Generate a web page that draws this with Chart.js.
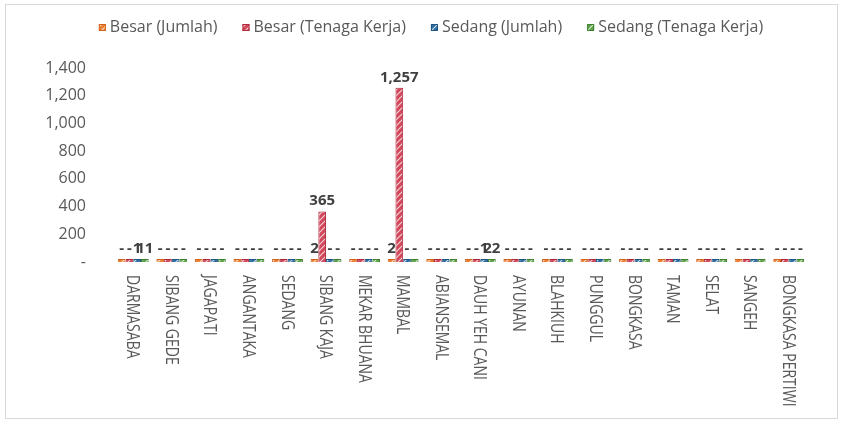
<!DOCTYPE html>
<html>
<head>
<meta charset="utf-8">
<script src="https://cdn.jsdelivr.net/npm/chart.js@4.4.0/dist/chart.umd.min.js"></script>
<style>
  html, body { margin: 0; padding: 0; background: #ffffff; }
  #wrap { width: 843px; height: 424px; position: relative; }
</style>
</head>
<body>
<div id="wrap"><canvas id="chart"></canvas></div>
<script>
const categories = [
  "DARMASABA", "SIBANG GEDE", "JAGAPATI", "ANGANTAKA", "SEDANG",
  "SIBANG KAJA", "MEKAR BHUANA", "MAMBAL", "ABIANSEMAL", "DAUH YEH CANI",
  "AYUNAN", "BLAHKIUH", "PUNGGUL", "BONGKASA", "TAMAN", "SELAT",
  "SANGEH", "BONGKASA PERTIWI",
];
const besarJumlah = [0, 0, 0, 0, 0, 2, 0, 2, 0, 0, 0, 0, 0, 0, 0, 0, 0, 0];
const besarTenagaKerja = [0, 0, 0, 0, 0, 365, 0, 1257, 0, 0, 0, 0, 0, 0, 0, 0, 0, 0];
const sedangJumlah = [1, 0, 0, 0, 0, 0, 0, 0, 0, 1, 0, 0, 0, 0, 0, 0, 0, 0];
const sedangTenagaKerja = [11, 0, 0, 0, 0, 0, 0, 0, 0, 22, 0, 0, 0, 0, 0, 0, 0, 0];
const yMax = 1400;
const yStep = 200;

const textGray = "#595959";
const labelGray = "#404040";

// hatched fill like the excel pattern bars
function hatch(base) {
  const c = document.createElement("canvas");
  c.width = 6;
  c.height = 6;
  const g = c.getContext("2d");
  g.fillStyle = base;
  g.fillRect(0, 0, 6, 6);
  g.strokeStyle = "rgba(255,255,255,0.75)";
  g.lineWidth = 1.2;
  g.beginPath();
  g.moveTo(0, 6); g.lineTo(6, 0);
  g.moveTo(-3, 3); g.lineTo(3, -3);
  g.moveTo(3, 9); g.lineTo(9, 3);
  g.stroke();
  return g.createPattern(c, "repeat");
}

const series = [
  { label: "Besar (Jumlah)", data: besarJumlah, color: "#ED7D31", border: "#D0641C" },
  { label: "Besar (Tenaga Kerja)", data: besarTenagaKerja, color: "#D2475A", border: "#B0283C" },
  { label: "Sedang (Jumlah)", data: sedangJumlah, color: "#2F6FA3", border: "#1F5582" },
  { label: "Sedang (Tenaga Kerja)", data: sedangTenagaKerja, color: "#5EA34A", border: "#3F8030" },
];

const fmt = (v) => (v === 0 ? "-" : v.toLocaleString("en-US"));

const drawExtras = {
  id: "drawExtras",
  beforeDraw(chart) {
    const ctx = chart.ctx;
    ctx.save();
    ctx.fillStyle = "#ffffff";
    ctx.fillRect(0, 0, chart.width, chart.height);
    ctx.strokeStyle = "#d9d9d9";
    ctx.lineWidth = 1;
    ctx.strokeRect(5.5, 4.5, 832, 414);
    ctx.restore();
  },
  afterDatasetsDraw(chart) {
    const ctx = chart.ctx;
    const xScale = chart.scales.x;
    ctx.save();

    // value labels above every bar
    ctx.font = "bold 15px 'Open Sans'";
    ctx.fillStyle = labelGray;
    ctx.textAlign = "center";
    ctx.textBaseline = "alphabetic";
    chart.data.datasets.forEach((ds, di) => {
      chart.getDatasetMeta(di).data.forEach((bar, i) => {
        ctx.fillText(fmt(ds.data[i]), bar.x, bar.y - 6);
      });
    });

    // category labels turned to read top to bottom
    ctx.font = "14px 'Open Sans'";
    ctx.fillStyle = textGray;
    ctx.textAlign = "left";
    ctx.textBaseline = "middle";
    categories.forEach((name, i) => {
      const x = xScale.getPixelForValue(i);
      ctx.save();
      ctx.translate(x - 1, 275);
      ctx.rotate(Math.PI / 2);
      ctx.scale(1, 1.25);
      ctx.fillText(name, 0, 0);
      ctx.restore();
    });

    // legend row
    ctx.font = "16px 'Open Sans'";
    ctx.textBaseline = "middle";
    const box = 7, gapText = 4, gapItem = 25;
    const widths = series.map((s) => box + gapText + ctx.measureText(s.label).width);
    const total = widths.reduce((a, b) => a + b, 0) + gapItem * (series.length - 1);
    let lx = 431 - total / 2;
    const ly = 27.5;
    chart.data.datasets.forEach((ds, di) => {
      ctx.fillStyle = ds.backgroundColor;
      ctx.fillRect(lx, ly - box / 2, box, box);
      ctx.strokeStyle = ds.borderColor;
      ctx.lineWidth = 1;
      ctx.strokeRect(lx + 0.5, ly - box / 2 + 0.5, box - 1, box - 1);
      ctx.fillStyle = textGray;
      ctx.fillText(ds.label, lx + box + gapText, ly);
      lx += widths[di] + gapItem;
    });

    ctx.restore();
  },
};

const ctx = document.getElementById("chart").getContext("2d");
new Chart(ctx, {
  type: "bar",
  data: {
    labels: categories,
    datasets: series.map((s) => ({
      label: s.label,
      data: s.data,
      backgroundColor: hatch(s.color),
      borderColor: s.border,
      borderWidth: 1,
      minBarLength: 3,
      categoryPercentage: 0.8,
      barPercentage: 1.0,
    })),
  },
  options: {
    responsive: true,
    maintainAspectRatio: false,
    animation: false,
    layout: { padding: { top: 68, right: 35, left: 0, bottom: 0 } },
    plugins: {
      legend: { display: false },
      tooltip: { enabled: false },
    },
    scales: {
      x: {
        grid: { display: false },
        border: { display: false },
        ticks: { display: false },
        afterFit: (scale) => { scale.height = 162; },
      },
      y: {
        min: 0,
        max: yMax,
        grid: { display: false, drawTicks: false },
        border: { display: false },
        ticks: {
          stepSize: yStep,
          padding: 28,
          color: textGray,
          font: { family: "'Open Sans'", size: 16 },
          callback: (v) => fmt(v),
        },
        afterFit: (scale) => { scale.width = 114; },
      },
    },
  },
  plugins: [drawExtras],
});
</script>
</body>
</html>
